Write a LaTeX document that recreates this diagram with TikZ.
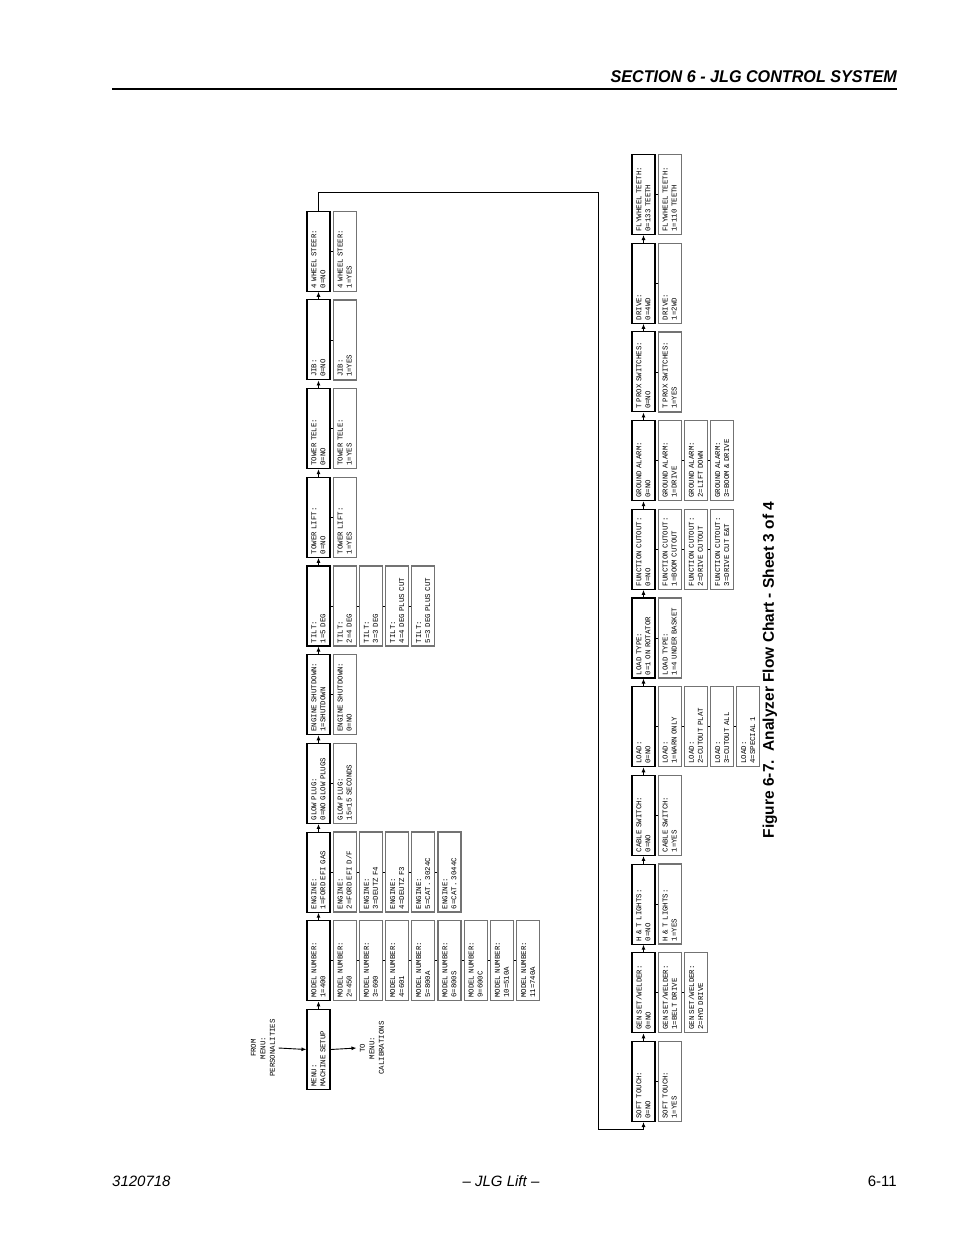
\documentclass[tikz,border=0pt]{standalone}
\usepackage{fontspec}
\setmainfont{Liberation Sans}
\newfontfamily\plotfont{Liberation Mono}
\newfontfamily\headfont[FakeStretch=0.95]{Liberation Sans}
\usetikzlibrary{calc, arrows.meta}
\tikzset{
  MAIN/.style={% Style for the chain boxes
      rectangle, line width=1.1pt,
      draw=black,
      rotate=90,
      align=left,
      text width=74pt,
      minimum width=80pt,
      minimum height=23pt,
      inner xsep=3pt,
      inner ysep=2pt,
      font=\plotfont\fontsize{7.4}{9}\selectfont,
  },
  OPT/.style={% Style for the choice boxes
      MAIN,
      draw=black!55,
      line width=1.3pt,
  },
  LBL/.style={% Style for the menu labels
      rotate=90,
      align=center,
      font=\plotfont\fontsize{7.4}{9.5}\selectfont,
  },
  link/.style={line width=0.8pt},
  flow/.style={line width=0.9pt, -{Latex[length=5pt,width=4pt]}},
}
\def\screen(#1)#2[#3]#4{%
  \begin{scope}[shift={(#1)}]
    \foreach \opt [count=\i from 0] in {#4} {% first choice is the chain box
      \ifnum\i=0 \def\style{MAIN}\else\def\style{OPT}\fi
      \node[\style] (#2\i) at (\i*26.2,0) {#3\\\opt};
      \ifnum\i>0
        \pgfmathtruncatemacro\j{\i-1}
        \draw[link] (#2\j.south) -- (#2\i.north); % tie to the box before
      \fi
    }
  \end{scope}
}

\begin{document}
\begin{tikzpicture}[x=1pt,y=-1pt]
  \useasboundingbox (0,0) rectangle (954,1235);
  % page head and foot
  \node[anchor=base east, inner sep=0pt, font=\headfont\bfseries\itshape\fontsize{17}{20}\selectfont] (sec) at (897,82) {SECTION 6 - JLG CONTROL SYSTEM};
  \draw[line width=1.2pt] (112,89) -- (897,89);
  \node[anchor=base west, inner sep=0pt, font=\itshape\fontsize{15}{18}\selectfont] (doc) at (112,1186) {3120718};
  \node[anchor=base, inner sep=0pt, font=\itshape\fontsize{15}{18}\selectfont] (brand) at (501,1186) {-- JLG Lift --};
  \node[anchor=base east, inner sep=0pt, font=\fontsize{15}{18}\selectfont] (page) at (897,1186) {6-11};

  % first chain
  \screen(318.5,1049.5){menu}[MENU:]{MACHINE SETUP}
  \screen(318.5,960.8){model}[MODEL NUMBER:]{1=400,2=450,3=600,4=601,5=800A,6=800S,9=600C,10=510A,11=740A}
  \screen(318.5,872.1){engine}[ENGINE:]{1=FORD EFI GAS,2=FORD EFI D/F,3=DEUTZ F4,4=DEUTZ F3,5=CAT. 3024C,6=CAT. 3044C}
  \screen(318.5,783.4){glow}[GLOW PLUG:]{0=NO GLOW PLUGS,15=15 SECONDS}
  \screen(318.5,694.7){shutdown}[ENGINE SHUTDOWN:]{1=SHUTDOWN,0=NO}
  \screen(318.5,606.0){tilt}[TILT:]{1=5 DEG,2=4 DEG,3=3 DEG,4=4 DEG PLUS CUT,5=3 DEG PLUS CUT}
  \screen(318.5,517.3){tlift}[TOWER LIFT:]{0=NO,1=YES}
  \screen(318.5,428.6){ttele}[TOWER TELE:]{0=NO,1=YES}
  \screen(318.5,339.9){jib}[JIB:]{0=NO,1=YES}
  \screen(318.5,251.2){steer}[4 WHEEL STEER:]{0=NO,1=YES}

  % second chain
  \screen(643.5,1081.5){soft}[SOFT TOUCH:]{0=NO,1=YES}
  \screen(643.5,992.8){gen}[GEN SET/WELDER:]{0=NO,1=BELT DRIVE,2=HYD DRIVE}
  \screen(643.5,904.1){lights}[H \& T LIGHTS:]{0=NO,1=YES}
  \screen(643.5,815.4){cable}[CABLE SWITCH:]{0=NO,1=YES}
  \screen(643.5,726.7){load}[LOAD:]{0=NO,1=WARN ONLY,2=CUTOUT PLAT,3=CUTOUT ALL,4=SPECIAL 1}
  \screen(643.5,638.0){ltype}[LOAD TYPE:]{0=1 ON ROTATOR,1=4 UNDER BASKET}
  \screen(643.5,549.3){cutout}[FUNCTION CUTOUT:]{0=NO,1=BOOM CUTOUT,2=DRIVE CUTOUT,3=DRIVE CUT E\&T}
  \screen(643.5,460.6){alarm}[GROUND ALARM:]{0=NO,1=DRIVE,2=LIFT DOWN,3=BOOM \& DRIVE}
  \screen(643.5,371.9){prox}[T PROX SWITCHES:]{0=NO,1=YES}
  \screen(643.5,283.2){drive}[DRIVE:]{0=4WD,1=2WD}
  \screen(643.5,194.5){teeth}[FLYWHEEL TEETH:]{0=133 TEETH,1=110 TEETH}

  % flow along the chains
  \foreach \a/\b in {menu/model, model/engine, engine/glow, glow/shutdown, shutdown/tilt,
      tilt/tlift, tlift/ttele, ttele/jib, jib/steer, soft/gen, gen/lights, lights/cable,
      cable/load, load/ltype, ltype/cutout, cutout/alarm, alarm/prox, prox/drive, drive/teeth}
    \draw[flow] (\a0.east) -- (\b0.west);

  % jump from the first chain to the second
  \coordinate (up) at (598,192);
  \coordinate (down) at (598,1129);
  \draw[flow] (steer0.east) |- (up) -- (down) -| (soft0.west);

  % menu entry and exit
  \node[LBL] (from) at (263,1048) {FROM\\MENU:\\PERSONALITIES};
  \node[LBL] (to) at (372,1048) {TO\\MENU:\\CALIBRATIONS};
  \draw[flow] (from.south) -- (menu0.north);
  \draw[flow] (menu0.south) -- (to.north);

  % caption
  \node[rotate=90, font=\bfseries\fontsize{15.5}{18}\selectfont] (cap) at (770,670) {Figure 6-7.\ \ Analyzer Flow Chart - Sheet 3 of 4};
\end{tikzpicture}
\end{document}
